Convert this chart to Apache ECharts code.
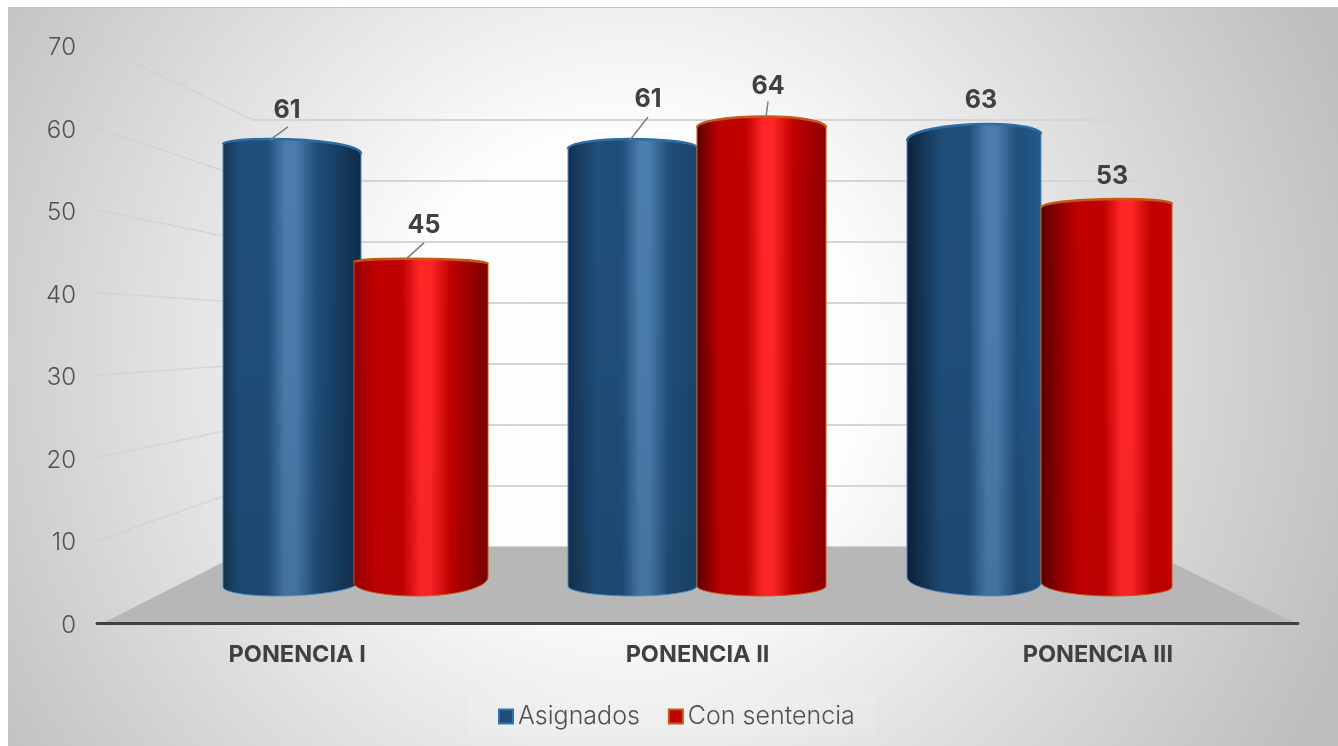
<!DOCTYPE html>
<html>
<head>
<meta charset="utf-8">
<style>html,body{margin:0;padding:0;background:#fff}#c{width:1338px;height:746px}</style>
<script src="https://cdn.jsdelivr.net/npm/echarts@6/dist/echarts.min.js"></script>
</head>
<body>
<div id="c"></div>
<script>
const categories = ['PONENCIA I', 'PONENCIA II', 'PONENCIA III'];
const asignados = [61, 61, 63];
const conSentencia = [45, 64, 53];
const axisMin = 0;
const axisMax = 70;
const axisStep = 10;
const wallTicks = [10, 20, 30, 40, 50, 60, 70];

const FONT = 'Inter';
const front = {left: 97, right: 1298, top: 45, bottom: 623};
const labels = {left: 97, right: 1298, top: 48, bottom: 625.5};
const wall = {left: 253, right: 1140, top: 120, bottom: 547};
const bars = {left: 184, right: 1210, top: 71.5, bottom: 596};

// cylinder outline relative to the category centre / the scaled value:
// xl, xr, top apex dx, top corner drops L/R, bottom apex dx, bottom corner rises L/R,
// highlight position, left edge colour, right edge colour, label dx, dy, leader end dx, dy
const blueShape = [
  {xl:-132,xr:6,  ax:-85, tl:5, tr:15,bx:-80, bl:9, br:16,hi:.48,le:'#133553',re:'#0f2c48',lx:17, ly:-28,ldx:18, ldy:-12},
  {xl:-129,xr:0,  ax:-67, tl:10,tr:9, bx:-65, bl:10,br:10,hi:.58,le:'#14314f',re:'#1c4468',lx:18, ly:-39,ldx:18, ldy:-22},
  {xl:-132,xr:2,  ax:-49, tl:17,tr:10,bx:-46, bl:19,br:13,hi:.62,le:'#0b2138',re:'#235a8c',lx:-9, ly:-23,ldx:null}
];
const redShape = [
  {xl:-1, xr:133,ax:50, tl:3, tr:5, bx:62, bl:13,br:19,hi:.52,le:'#980000',re:'#780000',lx:19, ly:-33,ldx:19, ldy:-16},
  {xl:0,  xr:129,ax:69, tl:11,tr:11,bx:64, bl:10,br:10,hi:.54,le:'#5a0000',re:'#8c0000',lx:2,  ly:-30,ldx:2,  ldy:-15},
  {xl:2,  xr:133,ax:81, tl:9, tr:5, bx:74, bl:14,br:9, hi:.64,le:'#5c0000',re:'#c80000',lx:-8, ly:-22,ldx:null}
];

function arc(x0, y0, x1, y1, vertFirst) {
  const k = 0.55;
  return vertFirst
    ? `C ${x0} ${y0 + (y1 - y0) * k} ${x1 - (x1 - x0) * k} ${y1} ${x1} ${y1} `
    : `C ${x0 + (x1 - x0) * k} ${y0} ${x1} ${y1 - (y1 - y0) * k} ${x1} ${y1} `;
}

function cylinder(shapes, mid, light, lip, edge, shadeAlpha) {
  return function (params, api) {
    const i = api.value(0), v = api.value(1);
    const top = api.coord([i, v]), base = api.coord([i, 0]);
    const s = shapes[i], cx = top[0], y = top[1], b = base[1];
    const L = cx + s.xl, R = cx + s.xr, A = cx + s.ax, B = cx + s.bx;
    const capArc = arc(L, y + s.tl, A, y, true) + arc(A, y, R, y + s.tr, false);
    const outline = `M ${L} ${y + s.tl} ` + capArc + `L ${R} ${b - s.br} `
      + arc(R, b - s.br, B, b, true) + arc(B, b, L, b - s.bl, false) + 'Z';
    const body = new echarts.graphic.LinearGradient(0, 0, 1, 0, [
      {offset: 0, color: s.le},
      {offset: Math.max(s.hi - .36, .06), color: mid},
      {offset: s.hi - .16, color: mid},
      {offset: s.hi - .03, color: light},
      {offset: s.hi + .05, color: light},
      {offset: Math.min(s.hi + .2, .9), color: mid},
      {offset: 1, color: s.re}
    ]);
    const shade = new echarts.graphic.LinearGradient(0, 0, 0, 1, [
      {offset: 0, color: 'rgba(0,0,0,0)'},
      {offset: .45, color: 'rgba(0,0,0,0.01)'},
      {offset: 1, color: `rgba(0,0,0,${shadeAlpha})`}
    ]);
    const children = [
      {type: 'path', shape: {pathData: outline}, style: {fill: body, stroke: edge, lineWidth: 1}},
      {type: 'path', shape: {pathData: outline}, style: {fill: shade}},
      {type: 'path', shape: {pathData: `M ${L} ${y + s.tl} ` + capArc},
        style: {fill: null, stroke: lip, lineWidth: 2.5}}
    ];
    if (s.ldx !== null) {
      children.push({type: 'line',
        shape: {x1: A, y1: y + 1, x2: cx + s.ax + s.ldx, y2: y + s.ldy},
        style: {stroke: '#7f7f7f', lineWidth: 1.5}});
    }
    children.push({type: 'text', style: {
      text: String(v), x: A + s.lx, y: y + s.ly, align: 'center', verticalAlign: 'middle',
      font: `bold 25px ${FONT}`, fill: '#404040'}});
    return {type: 'group', children};
  };
}

function frontY(v) { return front.bottom - (front.bottom - front.top) * v / axisMax; }
function wallY(v) { return wall.bottom - (wall.bottom - wall.top) * v / axisMax; }

function floorItem() {
  const children = [{
    type: 'polygon',
    shape: {points: [[front.left + 6, front.bottom], [wall.left, wall.bottom], [wall.right, wall.bottom], [front.right - 3, front.bottom]]},
    style: {fill: '#b7b7b7'}
  }];
  wallTicks.forEach(v => children.push({
    type: 'line',
    shape: {x1: front.left, y1: frontY(v), x2: wall.left, y2: wallY(v)},
    style: {stroke: '#cecece', lineWidth: 1.5, lineDash: [2, 1]}
  }));
  return {type: 'group', children};
}

const hiddenAxis = {show: false};
const option = {
  animation: false,
  textStyle: {fontFamily: FONT},
  graphic: [
    {type: 'rect', z: -10, silent: true,
      shape: {x: 8, y: 8, width: 1330, height: 738},
      style: {
        fill: new echarts.graphic.RadialGradient(.468, .477, 1.05, [
          {offset: 0, color: '#ffffff'},
          {offset: .3, color: '#fdfdfd'},
          {offset: 1, color: '#bdbdbd'}
        ])
      }},
    {type: 'line', z: -9, silent: true,
      shape: {x1: 8, y1: 7.5, x2: 1338, y2: 7.5},
      style: {stroke: '#c4c4c4', lineWidth: 1}}
  ],
  grid: [
    {left: front.left, top: front.top, width: front.right - front.left, height: front.bottom - front.top, outerBoundsMode: 'none'},
    {left: wall.left, top: wall.top, width: wall.right - wall.left, height: wall.bottom - wall.top, outerBoundsMode: 'none'},
    {left: bars.left, top: bars.top, width: bars.right - bars.left, height: bars.bottom - bars.top, outerBoundsMode: 'none'},
    {left: labels.left, top: labels.top, width: labels.right - labels.left, height: labels.bottom - labels.top, outerBoundsMode: 'none'}
  ],
  xAxis: [
    {type: 'category', gridIndex: 0, data: categories, z: 5,
      axisLine: {lineStyle: {color: '#404040', width: 3, cap: 'round'}},
      axisTick: {show: false},
      axisLabel: {margin: 20, fontSize: 23.5, fontWeight: 'bold', color: '#404040', fontFamily: FONT}},
    {type: 'category', gridIndex: 1, data: categories, ...hiddenAxis},
    {type: 'category', gridIndex: 2, data: categories, ...hiddenAxis},
    {type: 'category', gridIndex: 3, data: categories, ...hiddenAxis}
  ],
  yAxis: [
    {type: 'value', gridIndex: 0, min: axisMin, max: axisMax, interval: axisStep, ...hiddenAxis},
    {type: 'value', gridIndex: 1, min: axisMin, max: axisMax, interval: axisStep,
      axisLine: {show: false}, axisTick: {show: false}, axisLabel: {show: false},
      splitLine: {show: true, lineStyle: {color: '#d5d5d5', width: 2}}},
    {type: 'value', gridIndex: 2, min: axisMin, max: axisMax, ...hiddenAxis},
    {type: 'value', gridIndex: 3, min: axisMin, max: axisMax, interval: axisStep,
      axisLine: {show: false}, axisTick: {show: false}, splitLine: {show: false},
      axisLabel: {margin: 21, fontSize: 24, fontWeight: 300, color: '#505050', fontFamily: FONT}}
  ],
  legend: {
    left: 468, top: 692, itemWidth: 14, itemHeight: 14, itemGap: 28,
    icon: 'rect', padding: [12, 20, 6, 30], backgroundColor: 'rgba(255,255,255,0.1)',
    textStyle: {fontSize: 25, fontWeight: 300, color: '#505050', fontFamily: FONT},
    data: ['Asignados', 'Con sentencia']
  },
  series: [
    {type: 'custom', name: 'wall', coordinateSystem: 'none', z: 1, silent: true,
      data: [0], renderItem: floorItem},
    {type: 'custom', name: 'Asignados', xAxisIndex: 2, yAxisIndex: 2, z: 3, clip: false,
      itemStyle: {color: '#1f4e79', borderColor: '#2e75b6', borderWidth: 2},
      encode: {x: 0, y: 1},
      data: asignados.map((v, i) => [i, v]),
      renderItem: cylinder(blueShape, '#1f4e79', '#4a7cad', '#2e6ca6', '#4f8fca', 0.08)},
    {type: 'custom', name: 'Con sentencia', xAxisIndex: 2, yAxisIndex: 2, z: 4, clip: false,
      itemStyle: {color: '#c00000', borderColor: '#c55a11', borderWidth: 2},
      encode: {x: 0, y: 1},
      data: conSentencia.map((v, i) => [i, v]),
      renderItem: cylinder(redShape, '#c00000', '#ff2626', '#c55a11', '#c55a11', 0.03)}
  ]
};
echarts.init(document.getElementById('c')).setOption(option);
</script>
</body>
</html>
